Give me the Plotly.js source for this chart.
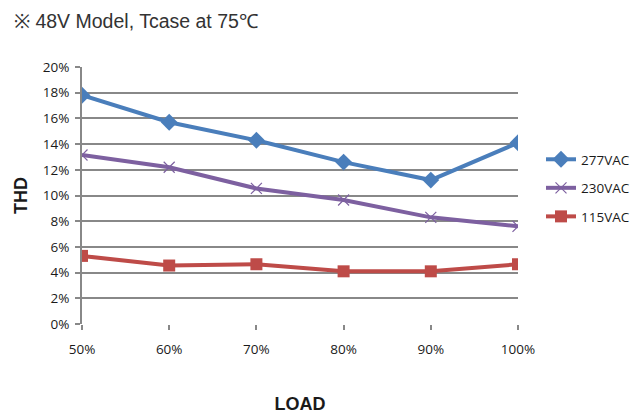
<!DOCTYPE html>
<html>
<head>
<meta charset="utf-8">
<script src="https://cdn.plot.ly/plotly-3.0.1.min.js"></script>
<style>html,body{margin:0;padding:0;background:#fff;}#chart{width:635px;height:419px;}</style>
</head>
<body>
<div id="chart"></div>
<script>
var loads = ["50%", "60%", "70%", "80%", "90%", "100%"];
var thd277 = [17.8, 15.7, 14.3, 12.6, 11.2, 14.1];
var thd230 = [13.15, 12.2, 10.55, 9.65, 8.3, 7.6];
var thd115 = [5.3, 4.55, 4.65, 4.1, 4.1, 4.65];
var yTicks = [0, 2, 4, 6, 8, 10, 12, 14, 16, 18, 20];
var yTickText = yTicks.map(function (v) { return v + "%"; });

var tickFont = {family: "'Open Sans', sans-serif", size: 13.5, color: "#1a1a1a"};
var boldFont = {family: "'Liberation Sans Narrow', 'Liberation Sans', Arial, sans-serif", size: 18, color: "#1a1a1a", weight: "bold"};

var traces = [
  {x: loads, y: thd277, name: "277VAC", type: "scatter", mode: "lines+markers", legendgroup: "a",
   line: {color: "#4A7EBB", width: 4}, marker: {symbol: "diamond", size: 13, color: "#4A7EBB"}},
  {x: loads, y: thd230, name: "230VAC", type: "scatter", mode: "lines+markers", legendgroup: "b",
   line: {color: "#7D60A0", width: 4}, marker: {symbol: "x-thin", size: 11, color: "#7D60A0", line: {color: "#7D60A0", width: 1.2}}},
  {x: loads, y: thd115, name: "115VAC", type: "scatter", mode: "lines+markers", legendgroup: "c",
   line: {color: "#BE4B48", width: 4}, marker: {symbol: "square", size: 12, color: "#BE4B48"}}
];

var layout = {
  width: 635, height: 419,
  margin: {l: 82, r: 117, t: 67, b: 95, pad: 0, autoexpand: false},
  paper_bgcolor: "#ffffff", plot_bgcolor: "#ffffff",
  showlegend: true,
  title: {text: "※ 48V Model, Tcase at 75℃", xref: "container", yref: "container", x: 14/635, xanchor: "left", y: 1 - 21/419, yanchor: "middle",
          font: {family: "'Liberation Sans Narrow', 'Liberation Sans', Arial, sans-serif", size: 19.5, color: "#333333"}},
  xaxis: {type: "category", range: [0, 5], showgrid: false, zeroline: false, showline: false, automargin: false,
          ticks: "outside", ticklen: 5, tickwidth: 2, tickcolor: "#888888", tickfont: tickFont, ticklabelstandoff: 8,
          title: {text: "LOAD", standoff: 40, font: boldFont}},
  yaxis: {range: [0, 20], tickvals: yTicks, ticktext: yTickText, showgrid: true, gridcolor: "#888888", gridwidth: 2,
          zeroline: false, showline: true, linecolor: "#888888", linewidth: 2, automargin: false,
          ticks: "outside", ticklen: 5, tickwidth: 2, tickcolor: "#888888", tickfont: tickFont, ticklabelstandoff: 3,
          title: {text: "THD", standoff: 10, font: boldFont}},
  legend: {x: (541 - 82) / 436, y: (324 - 188) / 257, xanchor: "left", yanchor: "middle", tracegroupgap: 8,
           font: {family: "'Open Sans', sans-serif", size: 13.5, color: "#1a1a1a"}, bgcolor: "rgba(0,0,0,0)"}
};

Plotly.newPlot("chart", traces, layout, {displayModeBar: false, staticPlot: true});
</script>
</body>
</html>
